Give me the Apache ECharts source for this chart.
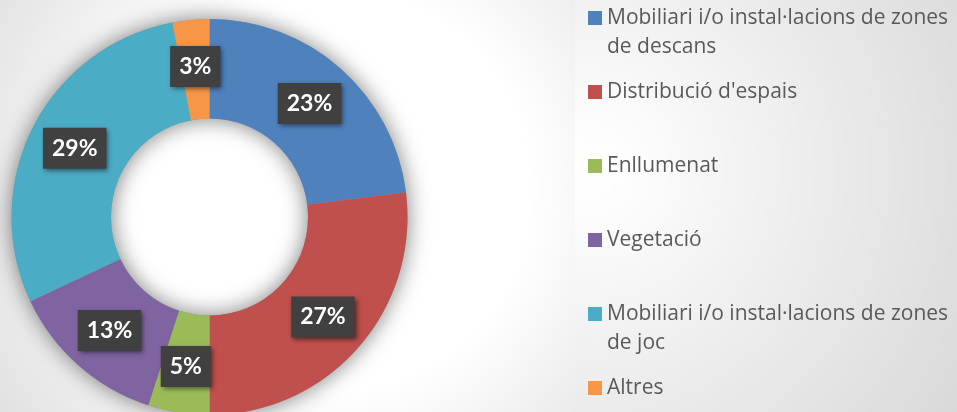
<!DOCTYPE html>
<html>
<head>
    <meta charset="utf-8">
    <title>Donut</title>
    <style>
        html, body { margin: 0; padding: 0; }
        #wrap { position: relative; width: 957px; height: 412px; overflow: hidden; }
        .bg-left { position: absolute; left: 0; top: 0; width: 575px; height: 412px;
            background: radial-gradient(circle at 330px 190px, #ffffff 0px, #ffffff 200px, #dcdcdc 430px); }
        .bg-right { position: absolute; left: 575px; top: 0; width: 382px; height: 412px;
            background: radial-gradient(circle at 15px 170px, #ffffff 0px, #fdfdfd 40px, #d9d9d9 440px); }
        #main { position: absolute; left: 0; top: 0; width: 957px; height: 412px; }
    </style>
</head>
<body>
    <div id="wrap">
        <div class="bg-left"></div>
        <div class="bg-right"></div>
        <div id="main"></div>
    </div>
    <script src="https://cdn.jsdelivr.net/npm/echarts@6/dist/echarts.min.js"></script>
    <script type="text/javascript">
    // dades
    var categories = [
        'Mobiliari i/o instal·lacions de zones de descans',
        "Distribució d'espais",
        'Enllumenat',
        'Vegetació',
        'Mobiliari i/o instal·lacions de zones de joc',
        'Altres'
    ];
    var values = [23, 27, 5, 13, 29, 3];
    var colors = ['#4F81BD', '#C0504D', '#9BBB59', '#8064A2', '#4BACC6', '#F79646'];

    // posicio vertical (dalt) de cada quadret de la llegenda
    var legendIconTop = [11, 85, 159, 233, 307, 381];

    var myChart = echarts.init(document.getElementById('main'));

    var pieData = [];
    for (var i = 0; i < categories.length; i++) {
        pieData.push({ name: categories[i], value: values[i], itemStyle: { color: colors[i] } });
    }

    // quadret a dalt + punt buit a baix, perque el text de dues linies
    // quedi amb la primera linia al costat del quadret
    var tallIcon = 'path://M0,0L14,0L14,14L0,14Z M0,43L14,43';

    // una llegenda per element, per poder-les col·locar com a l'original
    var legends = [];
    for (var j = 0; j < categories.length; j++) {
        var twoLines = categories[j].indexOf('zones ') >= 0;
        legends.push({
            orient: 'vertical',
            left: 588,
            top: legendIconTop[j] - 7.5,
            padding: 0,
            itemWidth: 14,
            itemHeight: twoLines ? 43 : 14,
            icon: twoLines ? tallIcon : 'rect',
            itemStyle: { borderWidth: 0 },
            selectedMode: false,
            data: [categories[j]],
            formatter: function (name) {
                return name.replace('zones ', 'zones\n');
            },
            textStyle: {
                fontFamily: 'Open Sans',
                fontSize: 21,
                color: '#595959',
                lineHeight: 29
            }
        });
    }

    var option = {
        backgroundColor: 'transparent',
        animation: false,
        legend: legends,
        series: [{
            // anell d'ombra sota el donut
            name: 'ombra',
            type: 'pie',
            silent: true,
            center: [209.5, 217],
            radius: [98.5, 198],
            label: { show: false },
            labelLine: { show: false },
            itemStyle: {
                color: '#9a9a9a',
                shadowBlur: 22,
                shadowColor: 'rgba(0,0,0,0.5)'
            },
            data: [{ name: '', value: 1 }]
        }, {
            name: 'Respostes',
            type: 'pie',
            center: [209.5, 217],
            radius: [98.5, 198],
            startAngle: 90,
            clockwise: true,
            avoidLabelOverlap: false,
            emphasis: { disabled: true },
            label: {
                show: true,
                position: 'inside',
                formatter: '{c}%',
                fontFamily: 'Lato',
                fontWeight: 'bold',
                fontSize: 23,
                lineHeight: 27,
                color: '#ffffff',
                backgroundColor: '#404040',
                padding: [7, 9, 7, 9],
                shadowColor: 'rgba(0,0,0,0.55)',
                shadowBlur: 5,
                shadowOffsetX: 2,
                shadowOffsetY: 2
            },
            labelLine: { show: false },
            data: pieData
        }]
    };

    myChart.setOption(option);
    </script>
</body>
</html>
